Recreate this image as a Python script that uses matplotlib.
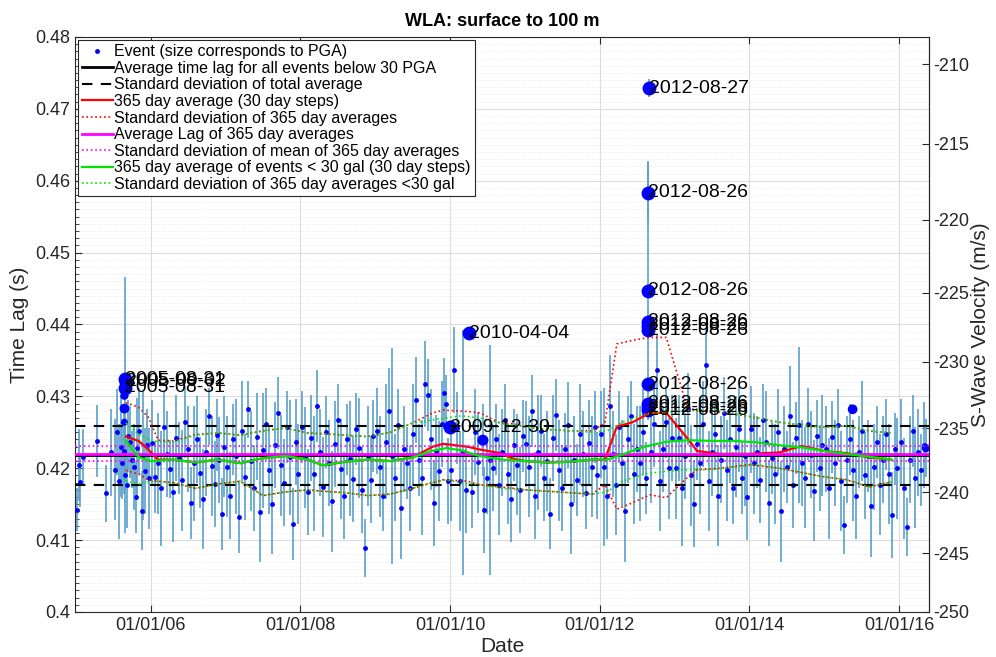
import matplotlib
matplotlib.use('Agg')
import matplotlib.pyplot as plt
from matplotlib.ticker import MultipleLocator, FixedLocator, FuncFormatter

plt.rcParams['font.family'] = ['Liberation Sans', 'DejaVu Sans']
plt.rcParams['axes.unicode_minus'] = False

# ---- events (decimal year, time lag in s, error half width in s) ----
ev_year = [2005.02, 2005.04, 2005.06, 2005.10, 2005.28, 2005.40, 2005.47, 2005.52, 2005.55, 2005.58,
           2005.60, 2005.62, 2005.65, 2005.66, 2005.68, 2005.70, 2005.72, 2005.75, 2005.78, 2005.80,
           2005.82, 2005.85, 2005.88, 2005.90, 2005.92, 2005.95, 2005.98,
           2006.02, 2006.06, 2006.10, 2006.14, 2006.18, 2006.22, 2006.26, 2006.30, 2006.34, 2006.38,
           2006.42, 2006.46, 2006.50, 2006.54, 2006.58, 2006.62, 2006.66, 2006.70, 2006.74, 2006.78,
           2006.82, 2006.86, 2006.89, 2006.92, 2006.95, 2006.98,
           2007.02, 2007.06, 2007.10, 2007.14, 2007.18, 2007.22, 2007.26, 2007.30, 2007.34, 2007.38,
           2007.42, 2007.46, 2007.50, 2007.54, 2007.58, 2007.62, 2007.66, 2007.70, 2007.74, 2007.78,
           2007.82, 2007.86, 2007.90, 2007.94, 2007.97,
           2008.02, 2008.06, 2008.10, 2008.14, 2008.18, 2008.22, 2008.26, 2008.30, 2008.34, 2008.38,
           2008.42, 2008.46, 2008.50, 2008.54, 2008.58, 2008.62, 2008.66, 2008.70, 2008.74, 2008.78,
           2008.82, 2008.86, 2008.90, 2008.94, 2008.97,
           2009.02, 2009.06, 2009.10, 2009.14, 2009.18, 2009.22, 2009.26, 2009.30, 2009.34, 2009.38,
           2009.42, 2009.46, 2009.50, 2009.54, 2009.58, 2009.62, 2009.66, 2009.70, 2009.74, 2009.78,
           2009.82, 2009.86, 2009.89, 2009.92, 2009.95, 2009.98,
           2010.02, 2010.06, 2010.10, 2010.14, 2010.18, 2010.22, 2010.30, 2010.34, 2010.38, 2010.46,
           2010.50, 2010.54, 2010.58, 2010.62, 2010.66, 2010.70, 2010.74, 2010.78, 2010.82, 2010.86,
           2010.90, 2010.94, 2010.97,
           2011.02, 2011.06, 2011.10, 2011.14, 2011.18, 2011.22, 2011.26, 2011.30, 2011.34, 2011.38,
           2011.42, 2011.46, 2011.50, 2011.54, 2011.58, 2011.62, 2011.66, 2011.70, 2011.74, 2011.78,
           2011.82, 2011.86, 2011.90, 2011.94, 2011.97,
           2012.02, 2012.06, 2012.10, 2012.14, 2012.18, 2012.22, 2012.26, 2012.30, 2012.34, 2012.38,
           2012.42, 2012.46, 2012.50, 2012.54, 2012.58, 2012.62, 2012.68, 2012.72, 2012.76, 2012.80,
           2012.84, 2012.88, 2012.92, 2012.96,
           2013.02, 2013.06, 2013.10, 2013.14, 2013.18, 2013.22, 2013.26, 2013.30, 2013.34, 2013.38,
           2013.42, 2013.46, 2013.50, 2013.54, 2013.58, 2013.62, 2013.66, 2013.70, 2013.74, 2013.78,
           2013.82, 2013.86, 2013.90, 2013.94, 2013.97,
           2014.02, 2014.06, 2014.10, 2014.14, 2014.18, 2014.22, 2014.26, 2014.30, 2014.34, 2014.38,
           2014.42, 2014.46, 2014.50, 2014.54, 2014.58, 2014.62, 2014.66, 2014.70, 2014.74, 2014.78,
           2014.82, 2014.86, 2014.90, 2014.94, 2014.97,
           2015.02, 2015.06, 2015.10, 2015.14, 2015.18, 2015.22, 2015.26, 2015.30, 2015.34, 2015.38,
           2015.42, 2015.46, 2015.50, 2015.54, 2015.58, 2015.62, 2015.66, 2015.70, 2015.74, 2015.78,
           2015.82, 2015.86, 2015.90, 2015.94, 2015.97,
           2016.02, 2016.06, 2016.10, 2016.14, 2016.18, 2016.22, 2016.26, 2016.30, 2016.34]
ev_lag = [0.4142, 0.4204, 0.4181, 0.4215, 0.4238, 0.4165, 0.4222, 0.4198, 0.4250, 0.4182,
          0.4230, 0.4207, 0.4224, 0.4190, 0.4177, 0.4245, 0.4237, 0.4212, 0.4202, 0.4160,
          0.4228, 0.4252, 0.4141, 0.4218, 0.4196, 0.4233, 0.4186,
          0.4235, 0.4188, 0.4207, 0.4172, 0.4258, 0.4220, 0.4199, 0.4167, 0.4242, 0.4214,
          0.4183, 0.4264, 0.4227, 0.4152, 0.4207, 0.4240, 0.4194, 0.4157, 0.4222, 0.4272,
          0.4203, 0.4178, 0.4246, 0.4211, 0.4136, 0.4230,
          0.4202, 0.4162, 0.4240, 0.4217, 0.4132, 0.4252, 0.4188, 0.4282, 0.4210, 0.4172,
          0.4244, 0.4139, 0.4225, 0.4262, 0.4197, 0.4150, 0.4232, 0.4277, 0.4204, 0.4180,
          0.4257, 0.4215, 0.4122, 0.4236, 0.4192,
          0.4257, 0.4215, 0.4167, 0.4242, 0.4192, 0.4287, 0.4222, 0.4174, 0.4250, 0.4207,
          0.4154, 0.4234, 0.4267, 0.4199, 0.4162, 0.4240, 0.4213, 0.4185, 0.4255, 0.4228,
          0.4170, 0.4089, 0.4217, 0.4184, 0.4245,
          0.4252, 0.4202, 0.4162, 0.4237, 0.4280, 0.4217, 0.4187, 0.4260, 0.4144, 0.4227,
          0.4207, 0.4172, 0.4247, 0.4295, 0.4212, 0.4187, 0.4317, 0.4302, 0.4240, 0.4152,
          0.4224, 0.4196, 0.4262, 0.4304, 0.4290, 0.4182,
          0.4197, 0.4337, 0.4256, 0.4182, 0.4222, 0.4170, 0.4167, 0.4250, 0.4208, 0.4142,
          0.4187, 0.4212, 0.4200, 0.4240, 0.4177, 0.4222, 0.4267, 0.4192, 0.4157, 0.4232,
          0.4205, 0.4170, 0.4245,
          0.4234, 0.4202, 0.4280, 0.4162, 0.4222, 0.4252, 0.4187, 0.4210, 0.4137, 0.4242,
          0.4274, 0.4197, 0.4172, 0.4227, 0.4260, 0.4150, 0.4212, 0.4184, 0.4247, 0.4220,
          0.4165, 0.4235, 0.4202, 0.4257, 0.4190,
          0.4247, 0.4202, 0.4162, 0.4287, 0.4220, 0.4177, 0.4257, 0.4207, 0.4140, 0.4240,
          0.4272, 0.4192, 0.4227, 0.4207, 0.4250, 0.4187, 0.4222, 0.4262, 0.4336, 0.4182,
          0.4227, 0.4264, 0.4200, 0.4242,
          0.4200, 0.4242, 0.4172, 0.4217, 0.4282, 0.4190, 0.4150, 0.4234, 0.4207, 0.4262,
          0.4343, 0.4182, 0.4222, 0.4247, 0.4162, 0.4212, 0.4277, 0.4197, 0.4240, 0.4172,
          0.4230, 0.4255, 0.4187, 0.4217, 0.4160,
          0.4254, 0.4207, 0.4222, 0.4184, 0.4267, 0.4237, 0.4152, 0.4214, 0.4192, 0.4250,
          0.4140, 0.4227, 0.4202, 0.4272, 0.4177, 0.4242, 0.4260, 0.4207, 0.4187, 0.4262,
          0.4219, 0.4169, 0.4245, 0.4200, 0.4232,
          0.4227, 0.4172, 0.4244, 0.4207, 0.4260, 0.4182, 0.4121, 0.4212, 0.4240, 0.4197,
          0.4162, 0.4222, 0.4252, 0.4190, 0.4217, 0.4147, 0.4202, 0.4237, 0.4177, 0.4212,
          0.4247, 0.4192, 0.4135, 0.4227, 0.4200,
          0.4237, 0.4172, 0.4118, 0.4212, 0.4252, 0.4187, 0.4222, 0.4197, 0.4232]
ev_err = [0.0030, 0.0050, 0.0035, 0.0040, 0.0050, 0.0040, 0.0060, 0.0070, 0.0060, 0.0080,
          0.0070, 0.0050, 0.0060, 0.0080, 0.0060, 0.0050, 0.0050, 0.0040, 0.0060, 0.0050,
          0.0070, 0.0060, 0.0055, 0.0090, 0.0060, 0.0050, 0.0070,
          0.0060, 0.0050, 0.0070, 0.0080, 0.0050, 0.0060, 0.0040, 0.0070, 0.0060, 0.0050,
          0.0070, 0.0050, 0.0060, 0.0050, 0.0080, 0.0060, 0.0050, 0.0070, 0.0060, 0.0040,
          0.0070, 0.0060, 0.0050, 0.0060, 0.0050, 0.0070,
          0.0070, 0.0060, 0.0050, 0.0080, 0.0050, 0.0070, 0.0060, 0.0040, 0.0070, 0.0060,
          0.0060, 0.0070, 0.0080, 0.0050, 0.0060, 0.0070, 0.0060, 0.0050, 0.0070, 0.0060,
          0.0050, 0.0080, 0.0050, 0.0060, 0.0070,
          0.0050, 0.0070, 0.0060, 0.0060, 0.0080, 0.0050, 0.0060, 0.0070, 0.0050, 0.0060,
          0.0070, 0.0060, 0.0050, 0.0070, 0.0060, 0.0050, 0.0080, 0.0060, 0.0050, 0.0070,
          0.0060, 0.0040, 0.0070, 0.0060, 0.0050,
          0.0060, 0.0070, 0.0050, 0.0080, 0.0060, 0.0150, 0.0060, 0.0050, 0.0070, 0.0060,
          0.0050, 0.0060, 0.0070, 0.0060, 0.0050, 0.0080, 0.0060, 0.0050, 0.0070, 0.0060,
          0.0050, 0.0070, 0.0060, 0.0050, 0.0040, 0.0060,
          0.0070, 0.0060, 0.0050, 0.0070, 0.0170, 0.0060, 0.0050, 0.0060, 0.0070, 0.0060,
          0.0050, 0.0160, 0.0060, 0.0050, 0.0070, 0.0060, 0.0050, 0.0070, 0.0060, 0.0050,
          0.0070, 0.0060, 0.0050,
          0.0060, 0.0070, 0.0050, 0.0060, 0.0080, 0.0050, 0.0060, 0.0070, 0.0050, 0.0060,
          0.0050, 0.0070, 0.0060, 0.0050, 0.0060, 0.0070, 0.0060, 0.0050, 0.0070, 0.0060,
          0.0050, 0.0060, 0.0070, 0.0050, 0.0060,
          0.0060, 0.0110, 0.0060, 0.0070, 0.0060, 0.0070, 0.0050, 0.0060, 0.0070, 0.0060,
          0.0050, 0.0070, 0.0060, 0.0080, 0.0060, 0.0050, 0.0070, 0.0060, 0.0050, 0.0070,
          0.0060, 0.0050, 0.0070, 0.0060,
          0.0070, 0.0060, 0.0080, 0.0060, 0.0050, 0.0070, 0.0060, 0.0050, 0.0070, 0.0060,
          0.0050, 0.0070, 0.0060, 0.0050, 0.0070, 0.0060, 0.0050, 0.0070, 0.0060, 0.0050,
          0.0070, 0.0060, 0.0050, 0.0070, 0.0060,
          0.0060, 0.0070, 0.0050, 0.0060, 0.0050, 0.0070, 0.0060, 0.0050, 0.0070, 0.0060,
          0.0070, 0.0060, 0.0050, 0.0070, 0.0060, 0.0050, 0.0108, 0.0060, 0.0070, 0.0050,
          0.0060, 0.0070, 0.0050, 0.0060, 0.0070,
          0.0060, 0.0070, 0.0050, 0.0060, 0.0050, 0.0070, 0.0040, 0.0060, 0.0050, 0.0070,
          0.0060, 0.0050, 0.0070, 0.0060, 0.0050, 0.0070, 0.0060, 0.0050, 0.0070, 0.0060,
          0.0050, 0.0070, 0.0060, 0.0050, 0.0070,
          0.0060, 0.0070, 0.0040, 0.0060, 0.0050, 0.0070, 0.0060, 0.0050, 0.0060]

# bigger PGA events (no label)
mid_year = [2005.65, 2005.65, 2005.65, 2010.44, 2015.38, 2016.36]
mid_lag = [0.4301, 0.4283, 0.4264, 0.4239, 0.4282, 0.4228]
mid_err = [0.0, 0.0, 0.0, 0.0050, 0.0, 0.0040]
mid_size = [6, 7, 5, 8, 7, 6]

# labelled events
big_year = [2005.664, 2005.670, 2005.664, 2009.995, 2010.255, 2012.653,
            2012.650, 2012.650, 2012.650, 2012.650, 2012.650, 2012.650, 2012.650, 2012.650, 2012.650]
big_lag = [0.4324, 0.4320, 0.4312, 0.4257, 0.4388, 0.4729,
           0.4583, 0.4447, 0.4404, 0.4398, 0.4392, 0.4317, 0.4290, 0.4285, 0.4281]
big_err = [0.0142, 0.0, 0.0, 0.0, 0.0, 0.0013,
           0.0040, 0.0180, 0.0, 0.0, 0.0, 0.0, 0.0, 0.0, 0.0]
big_label = ['2005-08-31', '2005-09-02', '2005-08-31', '2009-12-30', '2010-04-04', '2012-08-27',
             '2012-08-26', '2012-08-26', '2012-08-26', '2012-08-26', '2012-08-26', '2012-08-26',
             '2012-08-26', '2012-08-26', '2012-08-26']

# overall averages
avg_all = 0.4218
std_all = 0.0041
avg_365 = 0.4220
std_365 = 0.00105

# 365 day running average of all events (mean, +std, -std)
red_year = [2005.67, 2005.84, 2005.97, 2006.1, 2006.3, 2006.6, 2006.9, 2007.2, 2007.5, 2007.8, 2008.1,
            2008.3, 2008.6, 2008.9, 2009.2, 2009.5, 2009.77, 2009.91, 2010.23, 2010.4, 2010.67, 2010.85,
            2011.0, 2011.3, 2011.6, 2011.9, 2012.07, 2012.23, 2012.44, 2012.67, 2012.89, 2013.17, 2013.3,
            2013.6, 2014.0, 2014.4, 2014.7, 2015.0, 2015.3, 2015.6, 2015.9]
red_avg = [0.4244, 0.4238, 0.4226, 0.4212, 0.4212, 0.4208, 0.4212, 0.4207, 0.4214, 0.4217, 0.4212,
           0.4204, 0.4209, 0.4212, 0.4210, 0.4215, 0.4230, 0.4234, 0.4230, 0.4226, 0.4221, 0.4213,
           0.4210, 0.4208, 0.4209, 0.4212, 0.4212, 0.4258, 0.4264, 0.4277, 0.4277, 0.4242, 0.4224,
           0.4220, 0.4220, 0.4222, 0.4231, 0.4224, 0.4221, 0.4215, 0.4212]
red_up = [0.4291, 0.4285, 0.4271, 0.4239, 0.4238, 0.4247, 0.4249, 0.4246, 0.4252, 0.4256, 0.4249,
          0.4248, 0.4246, 0.4244, 0.4250, 0.4263, 0.4277, 0.4281, 0.4279, 0.4277, 0.4263, 0.4262,
          0.4258, 0.4254, 0.4252, 0.4252, 0.4263, 0.4373, 0.4378, 0.4382, 0.4382, 0.4285, 0.4280,
          0.4278, 0.4272, 0.4264, 0.4260, 0.4257, 0.4259, 0.4252, 0.4249]
red_lo = [0.4197, 0.4192, 0.4184, 0.4182, 0.4180, 0.4172, 0.4178, 0.4182, 0.4162, 0.4167, 0.4170,
          0.4168, 0.4166, 0.4162, 0.4164, 0.4172, 0.4180, 0.4184, 0.4182, 0.4177, 0.4174, 0.4172,
          0.4170, 0.4168, 0.4166, 0.4164, 0.4177, 0.4143, 0.4152, 0.4163, 0.4159, 0.4187, 0.4198,
          0.4200, 0.4205, 0.4200, 0.4194, 0.4188, 0.4184, 0.4174, 0.4181]

# 365 day running average of events < 30 gal (mean, +std, -std)
grn_year = [2005.67, 2005.75, 2005.85, 2006.0, 2006.3, 2006.6, 2006.9, 2007.2, 2007.5, 2007.8, 2008.1,
            2008.3, 2008.6, 2008.9, 2009.2, 2009.5, 2009.75, 2009.95, 2010.15, 2010.4, 2010.7, 2011.0,
            2011.3, 2011.6, 2011.9, 2012.1, 2012.3, 2012.6, 2012.9, 2013.2, 2013.5, 2013.8, 2014.1,
            2014.4, 2014.7, 2015.0, 2015.3, 2015.6, 2015.9]
grn_avg = [0.4239, 0.4227, 0.4215, 0.4210, 0.4212, 0.4208, 0.4212, 0.4207, 0.4214, 0.4217, 0.4212,
           0.4204, 0.4209, 0.4212, 0.4210, 0.4215, 0.4224, 0.4228, 0.4225, 0.4217, 0.4212, 0.4210,
           0.4208, 0.4209, 0.4212, 0.4212, 0.4219, 0.4230, 0.4237, 0.4239, 0.4238, 0.4238, 0.4236,
           0.4232, 0.4229, 0.4224, 0.4220, 0.4216, 0.4212]
grn_up = [0.4263, 0.4255, 0.4247, 0.4238, 0.4236, 0.4246, 0.4249, 0.4246, 0.4252, 0.4256, 0.4249,
          0.4248, 0.4246, 0.4244, 0.4250, 0.4263, 0.4267, 0.4270, 0.4273, 0.4270, 0.4262, 0.4258,
          0.4254, 0.4252, 0.4250, 0.4252, 0.4264, 0.4275, 0.4278, 0.4280, 0.4281, 0.4276, 0.4270,
          0.4264, 0.4260, 0.4257, 0.4259, 0.4252, 0.4249]
grn_lo = [0.4182, 0.4180, 0.4178, 0.4182, 0.4180, 0.4172, 0.4178, 0.4182, 0.4162, 0.4167, 0.4170,
          0.4168, 0.4166, 0.4162, 0.4164, 0.4172, 0.4180, 0.4184, 0.4180, 0.4177, 0.4172, 0.4170,
          0.4168, 0.4166, 0.4164, 0.4167, 0.4182, 0.4192, 0.4196, 0.4198, 0.4198, 0.4202, 0.4205,
          0.4200, 0.4194, 0.4188, 0.4184, 0.4174, 0.4181]

tick_years = [2006, 2008, 2010, 2012, 2014, 2016]
tick_labels = ['01/01/06', '01/01/08', '01/01/10', '01/01/12', '01/01/14', '01/01/16']
vel_ticks = [-210, -215, -220, -225, -230, -235, -240, -245, -250]

fig = plt.figure(figsize=(9.96, 6.57), dpi=100)
ax = fig.add_axes([0.0753, 0.0685, 0.8574, 0.8752])

err_c = '#5a9fc9'
ax.errorbar(ev_year, ev_lag, yerr=ev_err, fmt='none', ecolor=err_c, elinewidth=1.2, zorder=2)
ax.errorbar(mid_year, mid_lag, yerr=mid_err, fmt='none', ecolor=err_c, elinewidth=1.2, zorder=2)
ax.errorbar(big_year, big_lag, yerr=big_err, fmt='none', ecolor=err_c, elinewidth=1.2, zorder=2)
ev_h, = ax.plot(ev_year, ev_lag, 'o', color='#0000ff', ms=3.5, mec='none', zorder=3,
                label='Event (size corresponds to PGA)')
ax.scatter(mid_year, mid_lag, s=[m ** 2 for m in mid_size], color='#0000ff', lw=0, zorder=3)
ax.plot(big_year, big_lag, 'o', color='#0000ff', ms=10, mec='none', zorder=3)

l1 = ax.axhline(avg_all, color='black', lw=2, zorder=4,
                label='Average time lag for all events below 30 PGA')
l2 = ax.axhline(avg_all + std_all, color='black', lw=1.5, ls=(0, (5, 4)), zorder=4,
                label='Standard deviation of total average')
ax.axhline(avg_all - std_all, color='black', lw=1.5, ls=(0, (5, 4)), zorder=4)
l3, = ax.plot(red_year, red_avg, color='#ff0000', lw=1.6, zorder=5, label='365 day average (30 day steps)')
l4, = ax.plot(red_year, red_up, color='#ff0000', lw=1.2, ls=':', zorder=5,
              label='Standard deviation of 365 day averages')
ax.plot(red_year, red_lo, color='#ff0000', lw=1.2, ls=':', zorder=5)
l5 = ax.axhline(avg_365, color='#ff00ff', lw=2, zorder=6, label='Average Lag of 365 day averages')
l6 = ax.axhline(avg_365 + std_365, color='#ff00ff', lw=1.2, ls=':', zorder=6,
                label='Standard deviation of mean of 365 day averages')
ax.axhline(avg_365 - std_365, color='#ff00ff', lw=1.2, ls=':', zorder=6)
l7, = ax.plot(grn_year, grn_avg, color='#00e600', lw=1.6, zorder=7,
              label='365 day average of events < 30 gal (30 day steps)')
l8, = ax.plot(grn_year, grn_up, color='#00e600', lw=1.2, ls=':', zorder=7,
              label='Standard deviation of 365 day averages <30 gal')
ax.plot(grn_year, grn_lo, color='#00e600', lw=1.2, ls=':', zorder=7)

for yr, lg, lb in zip(big_year, big_lag, big_label):
    ax.text(yr, lg, lb, fontsize=14, ha='left', va='center', zorder=8)

ax.set_xlim(2004.99, 2016.40)
ax.set_ylim(0.40, 0.48)
ax.set_xticks(tick_years)
ax.set_xticklabels(tick_labels)
ax.yaxis.set_major_locator(MultipleLocator(0.01))
ax.yaxis.set_minor_locator(MultipleLocator(0.001))
ax.yaxis.set_major_formatter(FuncFormatter(lambda v, p: '%g' % round(v, 3)))
ax.tick_params(which='both', direction='in', top=True, labelsize=13, colors='#262626')
ax.tick_params(which='major', length=5)
ax.tick_params(which='minor', length=3)
ax.tick_params(axis='y', right=False)
ax.grid(which='major', color='#dcdcdc', lw=0.8)
ax.grid(which='minor', axis='y', color='#e4e4e4', lw=0.6, ls=':')
ax.set_axisbelow(True)
for s in ax.spines.values():
    s.set_color('#262626')

sec = ax.secondary_yaxis('right', functions=(lambda t: -100.0 / t, lambda v: -100.0 / v))
sec.yaxis.set_major_locator(FixedLocator(vel_ticks))
sec.tick_params(direction='in', length=5, labelsize=13, colors='#262626', pad=3)
sec.set_ylabel('S-Wave Velocity (m/s)', fontsize=15, color='#262626', labelpad=1)

ax.set_xlabel('Date', fontsize=15, color='#262626', labelpad=2)
ax.set_ylabel('Time Lag (s)', fontsize=15, color='#262626')
ax.set_title('WLA: surface to 100 m', fontsize=13, fontweight='bold', pad=8)

leg = ax.legend(handles=[ev_h, l1, l2, l3, l4, l5, l6, l7, l8], loc='upper left', fontsize=11.5,
                frameon=True, fancybox=False, edgecolor='#262626', framealpha=1,
                borderaxespad=0.2, handlelength=1.9, handletextpad=0.1, labelspacing=0.1,
                borderpad=0.25)
leg.get_frame().set_linewidth(0.8)
leg.set_zorder(9)

fig.savefig('out.png', dpi=100)
